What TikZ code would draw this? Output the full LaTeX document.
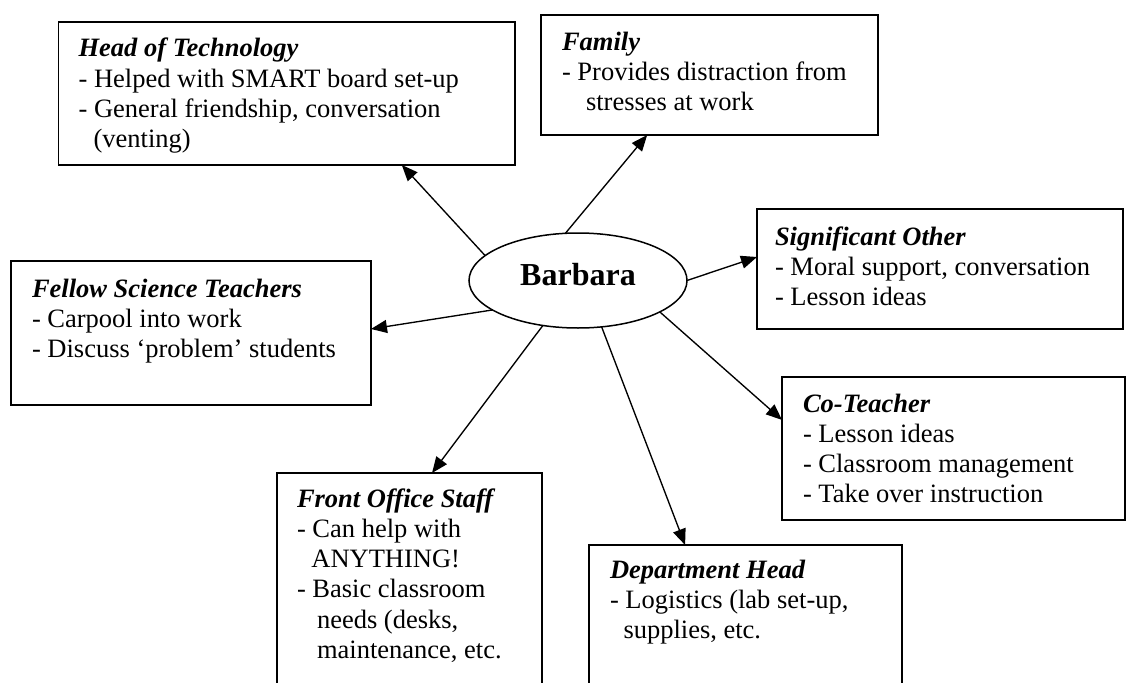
\documentclass[tikz,border=0pt]{standalone}
\usepackage{fontspec}
\setmainfont{Liberation Serif}
\usetikzlibrary{arrows.meta,calc,shapes.geometric}

\tikzset{
  box/.style={draw, line width=1.7pt, rectangle, inner sep=0pt, outer sep=0pt, anchor=north west},
  txt/.style={anchor=north west, inner sep=0pt, outer sep=0pt, align=left,
              font=\fontsize{26.5}{30.3}\selectfont},
  hub/.style={draw, ellipse, line width=1.5pt, inner sep=0pt, outer sep=0pt,
              minimum width=218pt, minimum height=95pt,
              font=\fontsize{32}{36}\selectfont\bfseries, text depth=12.6pt},
  link/.style={-{Triangle[length=16pt,width=13pt]}, line width=1.35pt},
}
\newcommand{\firstline}{\rule{0pt}{21pt}}
\newcommand{\heading}[1]{\textbf{\textit{#1}}}

\begin{document}
\begin{tikzpicture}[x=1pt,y=-1pt]
  \path[use as bounding box] (0,0) rectangle (1128,683);
  \fill[white] (0,0) rectangle (1128,683);
  \clip (0,0) rectangle (1128,683);

  % central person
  \node[hub] (barbara) at (578,280.5) {Barbara\hspace{9pt}};

  % surrounding support boxes
  \node[box, minimum width=456.4pt, minimum height=143.3pt] (hot) at (58.6,21.7) {};
  \node[box, minimum width=337pt,   minimum height=120pt]   (fam) at (541,15) {};
  \node[box, minimum width=366pt,   minimum height=120pt]   (sig) at (757,209) {};
  \node[box, minimum width=360pt,   minimum height=144pt]   (fst) at (11,261) {};
  \node[box, minimum width=343pt,   minimum height=143pt]   (cot) at (782,377) {};
  \node[box, minimum width=265pt,   minimum height=230pt]   (fos) at (277,473) {};
  \node[box, minimum width=313pt,   minimum height=160pt]   (dph) at (589,545) {};

  % box contents
  \node[txt] (hottext) at ($(hot.north west)+(20,14)$)
    {\firstline\heading{Head of Technology}\\
     - Helped with SMART board set-up\\
     - General friendship, conversation\\
     \hspace*{15pt}(venting)};
  \node[txt] (famtext) at ($(fam.north west)+(21,14)$)
    {\firstline\heading{Family}\\
     - Provides distraction from\\
     \hspace*{24pt}stresses at work};
  \node[txt] (sigtext) at ($(sig.north west)+(18,15)$)
    {\firstline\heading{Significant Other}\\
     - Moral support, conversation\\
     - Lesson ideas};
  \node[txt] (fsttext) at ($(fst.north west)+(21,15)$)
    {\firstline\heading{Fellow Science Teachers}\\
     - Carpool into work\\
     - Discuss ‘problem’ students};
  \node[txt] (cottext) at ($(cot.north west)+(21,14)$)
    {\firstline\heading{Co-Teacher}\\
     - Lesson ideas\\
     - Classroom management\\
     - Take over instruction};
  \node[txt] (fostext) at ($(fos.north west)+(20,13)$)
    {\firstline\heading{Front Office Staff}\\
     - Can help with\\
     \hspace*{14.4pt}ANYTHING!\\
     - Basic classroom\\
     \hspace*{20pt}needs (desks,\\
     \hspace*{20pt}maintenance, etc.};
  \node[txt] (dphtext) at ($(dph.north west)+(21,12)$)
    {\firstline\heading{Department Head}\\
     - Logistics (lab set-up,\\
     \hspace*{13.5pt}supplies, etc.};

  % connectors from the centre to each box
  \draw[link] (barbara.165)   -- ($(hot.south west)!0.752!(hot.south east)$);
  \draw[link] (barbara.105.3) -- ($(fam.south west)!0.315!(fam.south east)$);
  \draw[link] (barbara.0)     -- ($(sig.north west)!0.4!(sig.south west)$);
  \draw[link] (barbara.199.7) -- ($(fst.north east)!0.472!(fst.south east)$);
  \draw[link] (barbara.339.4) -- ($(cot.north west)!0.30!(cot.south west)$);
  \draw[link] (barbara.232.8) -- ($(fos.north west)!0.585!(fos.north east)$);
  \draw[link] (barbara.297.8) -- ($(dph.north west)!0.307!(dph.north east)$);
\end{tikzpicture}
\end{document}
